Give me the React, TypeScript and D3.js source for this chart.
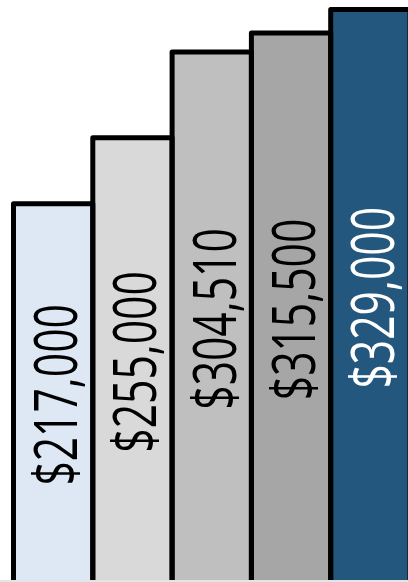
import React from "react";
import * as d3 from "d3";

const categories = ["A", "B", "C", "D", "E"];
const values = [217000, 255000, 304510, 315500, 329000];
const labels = ["$217,000", "$255,000", "$304,510", "$315,500", "$329,000"];
const fills = ["#dde8f4", "#d9d9d9", "#bfbfbf", "#a6a6a6", "#24577d"];
const textColors = ["#000000", "#000000", "#000000", "#000000", "#ffffff"];

const W = 408;
const H = 582;

export default function App() {
  const x = d3.scaleBand<string>().domain(categories).range([13.5, 410]).paddingInner(0).paddingOuter(0);
  const y = d3.scaleLinear().domain([0, 329000]).range([580, 9.5]);
  const y0 = y(0);

  return (
    <svg
      width={W}
      height={H}
      viewBox={`0 0 ${W} ${H}`}
      style={{ position: "absolute", left: 0, top: 0, background: "#ffffff" }}
    >
      {categories.map((c, i) => {
        const x0 = x(c)!;
        const bw = x.bandwidth();
        const yt = y(values[i]);
        return (
          <rect key={"f" + c} x={x0} y={yt} width={bw} height={y0 - yt + 4} fill={fills[i]} />
        );
      })}
      {categories.map((c, i) => {
        const x0 = x(c)!;
        const bw = x.bandwidth();
        const yt = y(values[i]);
        const p = d3.path();
        p.moveTo(x0, y0 + 4);
        p.lineTo(x0, yt);
        p.lineTo(x0 + bw, yt);
        p.lineTo(x0 + bw, y0 + 4);
        return (
          <path
            key={"s" + c}
            d={p.toString()}
            fill="none"
            stroke="#000000"
            strokeWidth={5}
            strokeLinejoin="round"
          />
        );
      })}
      <line x1={0} x2={W} y1={581} y2={581} stroke="#e4e4e4" strokeWidth={2} />
      {categories.map((c, i) => {
        const cx = x(c)! + x.bandwidth() / 2;
        const cy = (y(values[i]) + y0) / 2 + 3;
        return (
          <text
            key={"t" + c}
            transform={`translate(${cx + 24},${cy}) rotate(-90) scale(0.71,1)`}
            textAnchor="middle"
            fontFamily="'Open Sans', 'Noto Sans', sans-serif"
            fontSize={60}
            fontWeight={500}
            fill={textColors[i]}
          >
            {labels[i]}
          </text>
        );
      })}
    </svg>
  );
}
